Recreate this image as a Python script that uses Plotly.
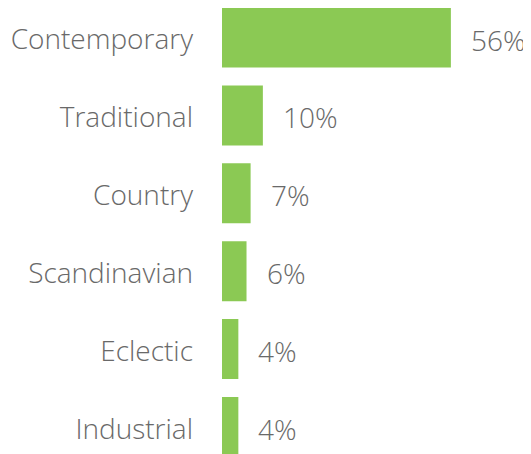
import plotly.graph_objects as go

categories = ["Contemporary", "Traditional", "Country", "Scandinavian", "Eclectic", "Industrial"]
values = [56, 10, 7, 6, 4, 4]
value_labels = ["56%", "10%", "7%", "6%", "4%", "4%"]

BAR = "#8bc954"
TXT = "#696969"
FONT = "Open Sans"

fig = go.Figure(go.Bar(
    x=values, y=categories, orientation="h",
    marker=dict(color=BAR, line=dict(width=0)),
    width=0.77, hoverinfo="skip",
))

for c, v, t in zip(categories, values, value_labels):
    fig.add_annotation(x=v, y=c, text=t, xanchor="left", yanchor="middle",
                       xshift=18, yshift=-2, showarrow=False,
                       font=dict(family=FONT, size=28, color=TXT, weight=300))

fig.update_layout(
    width=523, height=446,
    margin=dict(l=214, r=0, t=0, b=0),
    paper_bgcolor="white", plot_bgcolor="white",
    showlegend=False,
    xaxis=dict(range=[0, 75.6], visible=False, fixedrange=True),
    yaxis=dict(range=[5.347, -0.379], showgrid=False, zeroline=False, showline=False,
               ticks="", ticklabelstandoff=28, ticklabelshift=-2,
               tickfont=dict(family=FONT, size=28, color=TXT, weight=300), fixedrange=True),
)

fig.write_html("out.html")
